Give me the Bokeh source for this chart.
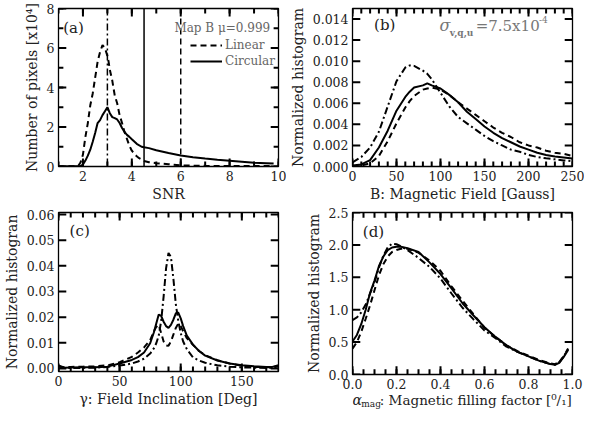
import numpy as np

from bokeh.embed import file_html
from bokeh.layouts import column, row
from bokeh.models import (Label, Legend, LegendItem, PrintfTickFormatter, Range1d,
                          SingleIntervalTicker, Span)
from bokeh.plotting import figure
from bokeh.resources import INLINE

SERIF = "DejaVu Serif"
INK = "#222222"
GREY = "#666666"
DASH = "6 4"
DASHDOT = "7 3 2 3"

# (a) SNR distributions, number of pixels in units of 10^4
snr_lin = [1.0, 1.8, 1.9, 2.0, 2.1, 2.2, 2.3, 2.4, 2.5, 2.6, 2.7, 2.8, 2.9, 3.0, 3.05,
           3.1, 3.2, 3.3, 3.4, 3.5, 3.6, 3.7, 3.8, 3.9, 4.0, 4.1, 4.2, 4.3, 4.5, 4.7,
           5.0, 5.5, 6.0, 7.0, 8.0, 9.0, 9.8]
npix_lin = [0.0, 0.02, 0.2, 0.6, 1.5, 2.2, 3.1, 3.7, 4.5, 5.3, 5.8, 6.15, 6.0, 5.6, 5.3,
            4.9, 4.35, 3.6, 3.2, 2.6, 2.2, 1.75, 1.4, 1.05, 0.8, 0.65, 0.52, 0.42, 0.28, 0.22,
            0.17, 0.12, 0.06, 0.03, 0.02, 0.02, 0.02]
snr_circ = [1.0, 1.9, 2.0, 2.1, 2.2, 2.3, 2.4, 2.5, 2.6, 2.7, 2.8, 2.9, 3.0, 3.1, 3.2,
            3.3, 3.4, 3.5, 3.6, 3.7, 3.8, 3.9, 4.0, 4.2, 4.4, 4.5, 4.7, 5.0, 5.5, 6.0,
            6.5, 7.0, 7.5, 8.0, 8.5, 9.0, 9.5, 9.8]
npix_circ = [0.0, 0.02, 0.1, 0.3, 0.55, 0.85, 1.25, 1.7, 2.2, 2.35, 2.6, 2.8, 3.0, 2.7, 2.5,
             2.45, 2.38, 2.2, 1.95, 1.75, 1.6, 1.5, 1.38, 1.15, 1.0, 0.97, 0.93, 0.82, 0.68, 0.56,
             0.47, 0.40, 0.34, 0.29, 0.24, 0.19, 0.17, 0.15]
snr_cuts = [3.0, 4.5, 6.0]
snr_cut_dash = [DASHDOT, "solid", DASH]

# (b) field strength histograms
b_field = [0, 10, 20, 30, 40, 50, 60, 65, 70, 80, 85, 90, 100, 110, 120, 130, 140, 150,
           160, 170, 180, 190, 200, 210, 220, 230, 240, 250]
b_dashdot = [0.0004, 0.0009, 0.0018, 0.0033, 0.0057, 0.0081, 0.0094, 0.0096, 0.00955, 0.0091,
             0.0088, 0.0083, 0.0070, 0.0057, 0.0047, 0.0041, 0.0035, 0.0029, 0.0024, 0.0020,
             0.0016, 0.0014, 0.0011, 0.0009, 0.00078, 0.00068, 0.00058, 0.0005]
b_solid = [0.0001, 0.0002, 0.0006, 0.0018, 0.0034, 0.0053, 0.0066, 0.0071, 0.0075, 0.0077,
           0.0079, 0.0077, 0.0074, 0.0068, 0.0061, 0.0052, 0.0045, 0.0038, 0.0032, 0.0027,
           0.0023, 0.0019, 0.0016, 0.0013, 0.0011, 0.00095, 0.00085, 0.00075]
b_dashed = [0.0, 0.0001, 0.0003, 0.0010, 0.0024, 0.0041, 0.0056, 0.0062, 0.0067, 0.0073,
            0.0074, 0.0075, 0.0073, 0.0068, 0.0061, 0.0055, 0.0049, 0.0043, 0.0037, 0.0032,
            0.0028, 0.0023, 0.0020, 0.0018, 0.0015, 0.0013, 0.0012, 0.0010]

# (c) inclination histograms
incl = [0, 5, 10, 20, 30, 40, 50, 60, 65, 70, 75, 78, 80, 82, 84, 86, 88, 90, 92, 94,
        96, 98, 100, 102, 105, 110, 115, 120, 130, 140, 150, 160, 170, 175, 180]
incl_dashdot = [0.0008, 0.0002, 0.0002, 0.0002, 0.0003, 0.0006, 0.0011, 0.0019, 0.0027, 0.0038,
                0.0058, 0.0078, 0.0098, 0.0128, 0.0185, 0.0280, 0.0390, 0.0450, 0.0435, 0.0350,
                0.0250, 0.0185, 0.0138, 0.0105, 0.0075, 0.0043, 0.0031, 0.0022, 0.0012, 0.0007,
                0.0004, 0.0003, 0.0002, 0.0003, 0.0008]
incl_solid = [0.0012, 0.0003, 0.0004, 0.0005, 0.0005, 0.0007, 0.0019, 0.0033, 0.0044, 0.0062,
              0.0098, 0.0140, 0.0175, 0.0210, 0.0205, 0.0182, 0.0165, 0.0158, 0.0170, 0.0190,
              0.0215, 0.0218, 0.0195, 0.0165, 0.0128, 0.0093, 0.0068, 0.0050, 0.0031, 0.0019,
              0.0012, 0.0008, 0.0006, 0.0006, 0.0013]
incl_dashed = [0.0008, 0.0004, 0.0006, 0.0007, 0.0008, 0.0012, 0.0024, 0.0045, 0.0062, 0.0082,
               0.0110, 0.0145, 0.0162, 0.0170, 0.0138, 0.0105, 0.0090, 0.0088, 0.0105, 0.0132,
               0.0158, 0.0175, 0.0165, 0.0145, 0.0118, 0.0092, 0.0068, 0.0052, 0.0032, 0.0019,
               0.0011, 0.0006, 0.0005, 0.0005, 0.0010]

# (d) filling factor histograms
fill = [0.0, 0.02, 0.04, 0.06, 0.08, 0.10, 0.12, 0.14, 0.16, 0.18, 0.20, 0.22, 0.25, 0.30,
        0.35, 0.40, 0.45, 0.50, 0.55, 0.60, 0.65, 0.70, 0.75, 0.80, 0.85, 0.90, 0.92, 0.94,
        0.96, 0.98]
fill_solid = [0.51, 0.61, 0.78, 1.00, 1.26, 1.45, 1.67, 1.82, 1.92, 1.96, 1.97, 1.97, 1.95, 1.89,
              1.73, 1.55, 1.33, 1.10, 0.91, 0.73, 0.58, 0.45, 0.35, 0.28, 0.21, 0.16, 0.15, 0.18,
              0.27, 0.38]
fill_dashdot = [0.84, 0.88, 0.96, 1.08, 1.25, 1.42, 1.65, 1.83, 1.96, 2.02, 2.01, 1.98, 1.92, 1.80,
                1.66, 1.48, 1.25, 1.03, 0.85, 0.68, 0.56, 0.43, 0.35, 0.28, 0.21, 0.16, 0.15, 0.19,
                0.28, 0.39]
fill_dashed = [0.40, 0.50, 0.66, 0.86, 1.07, 1.30, 1.53, 1.70, 1.82, 1.89, 1.92, 1.94, 1.94, 1.88,
               1.76, 1.60, 1.36, 1.14, 0.93, 0.72, 0.58, 0.45, 0.36, 0.29, 0.22, 0.17, 0.16, 0.19,
               0.28, 0.40]

W1, W2 = 286, 298
H1, H2 = 204, 205
L1, L2 = 52, 60
R1, R2 = 8, 12
TOP, BOT = 8, 36
LAB_H = 18          # strip under panel (d) that carries its x label
FH = H1 - TOP - BOT
FRAME_W, FRAME_H = 226, 158   # approximate plot-area size in pixels


def tick_marks(p, lo, hi, step, minor, axis):
    # IDL-style inward ticks drawn on both opposite edges of the frame
    major = np.arange(np.ceil(lo / step - 1e-9) * step, hi + step * 1e-6, step)
    marks = [(major, 8)]
    if minor > 1:
        sub = step / minor
        allm = np.arange(np.ceil(lo / sub - 1e-9) * sub, hi + sub * 1e-6, sub)
        marks.append((allm, 5))
    xr, yr = p.x_range, p.y_range
    xs_per_px = (xr.end - xr.start) / FRAME_W
    ys_per_px = (yr.end - yr.start) / FRAME_H
    for vals, ln in marks:
        vals = [float(v) for v in vals]
        n = len(vals)
        if axis == "x":
            d = ln * ys_per_px
            for edge, sign in ((yr.start, 1), (yr.end, -1)):
                p.segment(x0=vals, y0=[edge] * n, x1=vals, y1=[edge + sign * d] * n,
                          line_color="black", line_width=2, line_cap="butt")
        else:
            d = ln * xs_per_px
            for edge, sign in ((xr.start, 1), (xr.end, -1)):
                p.segment(x0=[edge] * n, y0=vals, x1=[edge + sign * d] * n, y1=vals,
                          line_color="black", line_width=2, line_cap="butt")


def make_panel(width, height, left, right, bottom, xr, yr, xstep, xminor, ystep, yminor,
               xfmt, yfmt, xlabel, ylabel):
    p = figure(width=width, height=height, x_range=Range1d(*xr), y_range=Range1d(*yr),
               output_backend="svg", toolbar_location=None,
               min_border_left=left, min_border_right=right,
               min_border_top=TOP, min_border_bottom=bottom)
    p.grid.visible = False
    p.outline_line_color = "black"
    p.outline_line_width = 1.3
    p.background_fill_color = "white"
    p.xaxis.ticker = SingleIntervalTicker(interval=xstep)
    p.yaxis.ticker = SingleIntervalTicker(interval=ystep)
    p.xaxis.formatter = PrintfTickFormatter(format=xfmt)
    p.yaxis.formatter = PrintfTickFormatter(format=yfmt)
    p.xaxis.axis_label = xlabel
    p.yaxis.axis_label = ylabel
    for ax in p.axis:
        ax.axis_line_color = None
        ax.major_tick_line_color = None
        ax.minor_tick_line_color = None
        ax.major_tick_out = 0
        ax.minor_tick_out = 0
        ax.major_label_text_font = SERIF
        ax.major_label_text_font_size = "12.5px"
        ax.major_label_text_color = INK
        ax.major_label_standoff = 4
        ax.axis_label_text_font = SERIF
        ax.axis_label_text_font_size = "14px"
        ax.axis_label_text_font_style = "normal"
        ax.axis_label_text_color = INK
        ax.axis_label_standoff = 4
    p.xaxis.axis_label_standoff = 2
    tick_marks(p, xr[0], xr[1], xstep, xminor, "x")
    tick_marks(p, yr[0], yr[1], ystep, yminor, "y")
    return p


def tag(p, text, x, y, size="15px"):
    p.add_layout(Label(x=x, y=y, text=text, text_font=SERIF, text_font_size=size,
                       text_color=INK, text_baseline="middle", text_align="left"))


# ---- (a)
pa = make_panel(W1, H1, L1, R1, BOT, (1, 10), (0, 8), 2, 2, 2, 2, "%d", "%d",
                "SNR", "Number of pixels [x10⁴]")
for loc, dash in zip(snr_cuts, snr_cut_dash):
    pa.add_layout(Span(location=loc, dimension="height", line_color="black",
                       line_width=1.5, line_dash=dash))
r_lin = pa.line(snr_lin, npix_lin, line_color="black", line_width=2, line_dash=DASH)
r_circ = pa.line(snr_circ, npix_circ, line_color="black", line_width=2)
tag(pa, "(a)", 1.19, 7.02)
pa.add_layout(Label(x=9.66, y=6.99, text="Map B μ=0.999", text_font=SERIF,
                    text_font_size="12px", text_color=GREY, text_baseline="middle",
                    text_align="right"))
legend = Legend(items=[LegendItem(label="Linear", renderers=[r_lin]),
                       LegendItem(label="Circular", renderers=[r_circ])],
                location=(132, FH - 63), orientation="vertical",
                glyph_width=32, glyph_height=16, label_height=16, spacing=0,
                padding=0, margin=0, label_standoff=3,
                label_text_font=SERIF, label_text_font_size="12px",
                label_text_color=GREY, border_line_color=None,
                background_fill_alpha=0)
pa.add_layout(legend)

# ---- (b)
pb = make_panel(W2, H1, L2, R2, BOT, (0, 250), (0, 0.015), 50, 5, 0.002, 1, "%d", "%.3f",
                "B: Magnetic Field [Gauss]", "Normalized histogram")
pb.line(b_field, b_dashdot, line_color="black", line_width=2, line_dash=DASHDOT)
pb.line(b_field, b_dashed, line_color="black", line_width=2, line_dash=DASH)
pb.line(b_field, b_solid, line_color="black", line_width=2)
tag(pb, "(b)", 24.5, 0.01343)
sig = dict(text_font=SERIF, text_color="#777777", text_baseline="middle",
           text_align="left")
pb.add_layout(Label(x=98.9, y=0.01343, text="σ", text_font_size="16px",
                    text_font_style="italic", **sig))
pb.add_layout(Label(x=110.5, y=0.01272, text="v,q,u", text_font_size="9px",
                    text_font_style="bold", **sig))
pb.add_layout(Label(x=140.0, y=0.01334, text="=7.5x10", text_font_size="15px", **sig))
pb.add_layout(Label(x=212.0, y=0.01392, text="-4", text_font_size="9px", **sig))

# ---- (c)
pc = make_panel(W1, H2, L1, R1, BOT, (0, 180), (-0.0012, 0.0608), 50, 5, 0.01, 1,
                "%d", "%.2f", "γ: Field Inclination [Deg]", "Normalized histogran")
pc.line(incl, incl_dashdot, line_color="black", line_width=2, line_dash=DASHDOT)
pc.line(incl, incl_dashed, line_color="black", line_width=2, line_dash=DASH)
pc.line(incl, incl_solid, line_color="black", line_width=2)
tag(pc, "(c)", 9.1, 0.0534)

# ---- (d)
pd_ = make_panel(W2, H2 - LAB_H, L2, R2, BOT - LAB_H - 1, (0, 1), (0, 2.5), 0.2, 4, 0.5, 1,
                 "%.1f", "%.1f", None, "Normalized histogram")
pd_.line(fill, fill_dashdot, line_color="black", line_width=2, line_dash=DASHDOT)
pd_.line(fill, fill_dashed, line_color="black", line_width=2, line_dash=DASH)
pd_.line(fill, fill_solid, line_color="black", line_width=2)
tag(pd_, "(d)", 0.047, 2.2)

# x label of (d), with its subscript, drawn in a thin strip under the panel
pd_lab = figure(width=W2, height=LAB_H, x_range=Range1d(0, 1), y_range=Range1d(0, 1),
                x_axis_type=None, y_axis_type=None, output_backend="svg",
                toolbar_location=None, min_border_left=L2, min_border_right=R2,
                min_border_top=0, min_border_bottom=0)
pd_lab.outline_line_color = None
pd_lab.grid.visible = False
xl = dict(text_font=SERIF, text_color=INK, text_baseline="middle", text_align="left")
pd_lab.add_layout(Label(x=0.0, y=0.55, text="α", text_font_size="14px",
                        text_font_style="italic", **xl))
pd_lab.add_layout(Label(x=0.040, y=0.32, text="mag", text_font_size="9px", **xl))
pd_lab.add_layout(Label(x=0.124, y=0.55, text=": Magnetic filling factor [⁰/₁]",
                        text_font_size="13.5px", **xl))

page = row(column(pa, pc), column(pb, pd_, pd_lab))
open("out.html", "w").write(file_html(page, INLINE))
